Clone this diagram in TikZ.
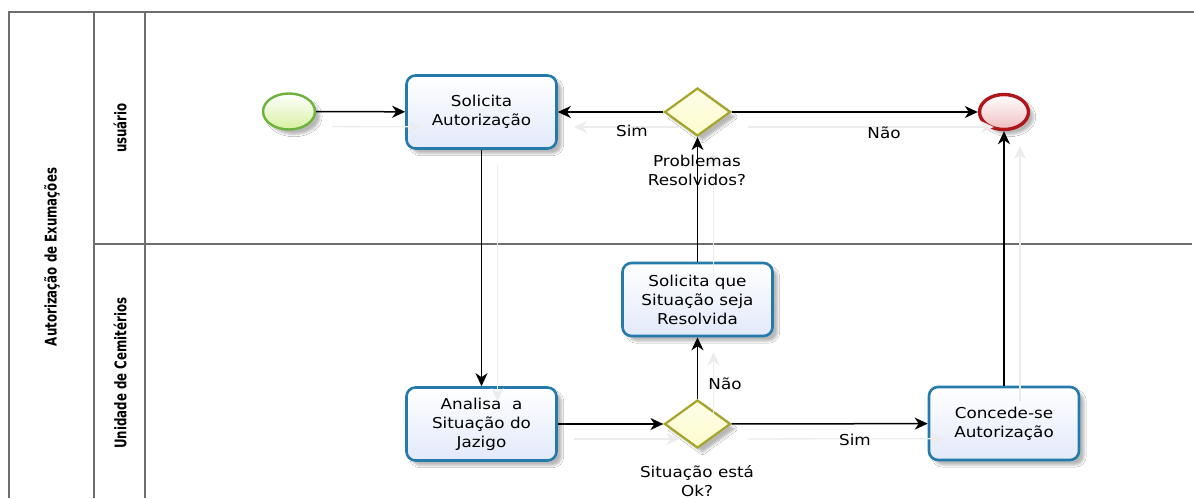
\documentclass[tikz,border=0pt]{standalone}
\usepackage{fontspec}
\setmainfont{DejaVu Sans}[FakeStretch=1.12]
\newfontfamily\lanefont{DejaVu Sans Condensed}[BoldFont=* Bold,FakeStretch=0.82]
\usetikzlibrary{arrows.meta,shapes.geometric,shadows.blur}

\definecolor{poolline}{RGB}{110,110,110}
\definecolor{taskline}{RGB}{36,122,170}
\definecolor{taskfill}{RGB}{226,233,250}
\definecolor{gateline}{RGB}{165,165,40}
\definecolor{gatefill}{RGB}{252,252,205}
\definecolor{startline}{RGB}{108,178,60}
\definecolor{startfill}{RGB}{215,240,160}
\definecolor{endline}{RGB}{175,22,28}
\definecolor{endfill}{RGB}{240,190,192}
\definecolor{ghost}{RGB}{236,236,236}

\tikzset{
  soft/.style={blur shadow={shadow xshift=5pt,shadow yshift=-5pt,shadow blur steps=6,shadow opacity=28}},
  task/.style={rectangle,rounded corners=9pt,draw=taskline,line width=2.6pt,
    top color=white,bottom color=taskfill,minimum width=150pt,minimum height=73pt,
    align=center,font=\fontsize{15}{19}\selectfont,inner sep=2pt,soft},
  gate/.style={diamond,aspect=1.36,draw=gateline,line width=2.2pt,
    top color=gatefill!45,bottom color=gatefill,minimum width=66pt,minimum height=48pt,inner sep=0pt,soft},
  startev/.style={ellipse,draw=startline,line width=2.4pt,
    top color=white,bottom color=startfill,minimum width=52pt,minimum height=36pt,inner sep=0pt,soft},
  endev/.style={ellipse,draw=endline,line width=3.4pt,
    top color=white,bottom color=endfill,minimum width=49pt,minimum height=35pt,inner sep=0pt,soft},
  flow/.style={draw=black,line width=1.5pt,-{Stealth[length=13pt,width=12pt,inset=4pt]}},
  ghostflow/.style={draw=ghost,line width=1.3pt,-{Stealth[length=13pt,width=12pt,inset=4pt]}},
  lbl/.style={font=\fontsize{15}{19}\selectfont,align=center,inner sep=0pt},
  lane/.style={font=\lanefont\bfseries\fontsize{16}{18}\selectfont,rotate=90,inner sep=0pt},
  pool/.style={draw=poolline,line width=1.6pt}
}

\begin{document}
\begin{tikzpicture}[x=1pt,y=-1pt]
\useasboundingbox (0,0) rectangle (1194,498);
\fill[white] (0,0) rectangle (1194,498);

% pool and lane frames
\draw[pool] (1194,12) -- (9,12) -- (9,498);
\draw[pool] (94,12) -- (94,498);
\draw[pool] (145,12) -- (145,498);
\draw[pool] (94,244) -- (1192,244);

\node[lane] (poolname) at (52,257) {Autorização de Exumações};
\node[lane] (laneuser) at (120,128) {usuário};
\node[lane] (lanecem) at (120,373) {Unidade de Cemitérios};

% flow objects
\node[startev] (start) at (289,111.5) {};
\node[endev] (finish) at (1004,112) {};
\node[task] (solicita) at (481.5,112) {Solicita\\Autorização};
\node[gate] (gprob) at (697.5,112) {};
\node[task] (resolver) at (697.5,299.5) {Solicita que\\Situação seja\\Resolvida};
\node[task] (analisa) at (481.5,424) {Analisa\ \ a\\Situação do\\Jazigo};
\node[gate] (gok) at (697.5,424) {};
\node[task] (concede) at (1004,423.5) {Concede-se\\Autorização};

% faint connector shadows
\begin{scope}[transform canvas={shift={(16pt,-15pt)}}]
  \draw[ghostflow] (start) -- (solicita);
  \draw[ghostflow] (gprob) -- (solicita);
  \draw[ghostflow] (gprob) -- (finish);
  \draw[ghostflow] (solicita) -- (analisa);
  \draw[ghostflow] (analisa) -- (gok);
  \draw[ghostflow] (gok) -- (resolver);
  \draw[ghostflow] (resolver) -- (gprob);
  \draw[ghostflow] (gok) -- (concede);
  \draw[ghostflow] (concede.north) -- (finish.south);
\end{scope}

% sequence flows
\draw[flow] (start) -- (solicita);
\draw[flow] (gprob) -- (solicita);
\draw[flow] (gprob) -- (finish);
\draw[flow] (solicita) -- (analisa);
\draw[flow] (analisa) -- (gok);
\draw[flow] (gok) -- (resolver);
\draw[flow] (resolver) -- (gprob);
\draw[flow] (gok) -- (concede);
\draw[flow] (concede.north) -- (finish.south);

% labels
\node[lbl] (simtop) at (632,131) {Sim};
\node[lbl] (naotop) at (884,133) {Não};
\node[lbl] (qprob) at (697,170) {Problemas\\Resolvidos?};
\node[lbl] (naolow) at (725,384) {Não};
\node[lbl] (simlow) at (855,440) {Sim};
\node[lbl] (qok) at (697,481) {Situação está\\Ok?};
\end{tikzpicture}
\end{document}
